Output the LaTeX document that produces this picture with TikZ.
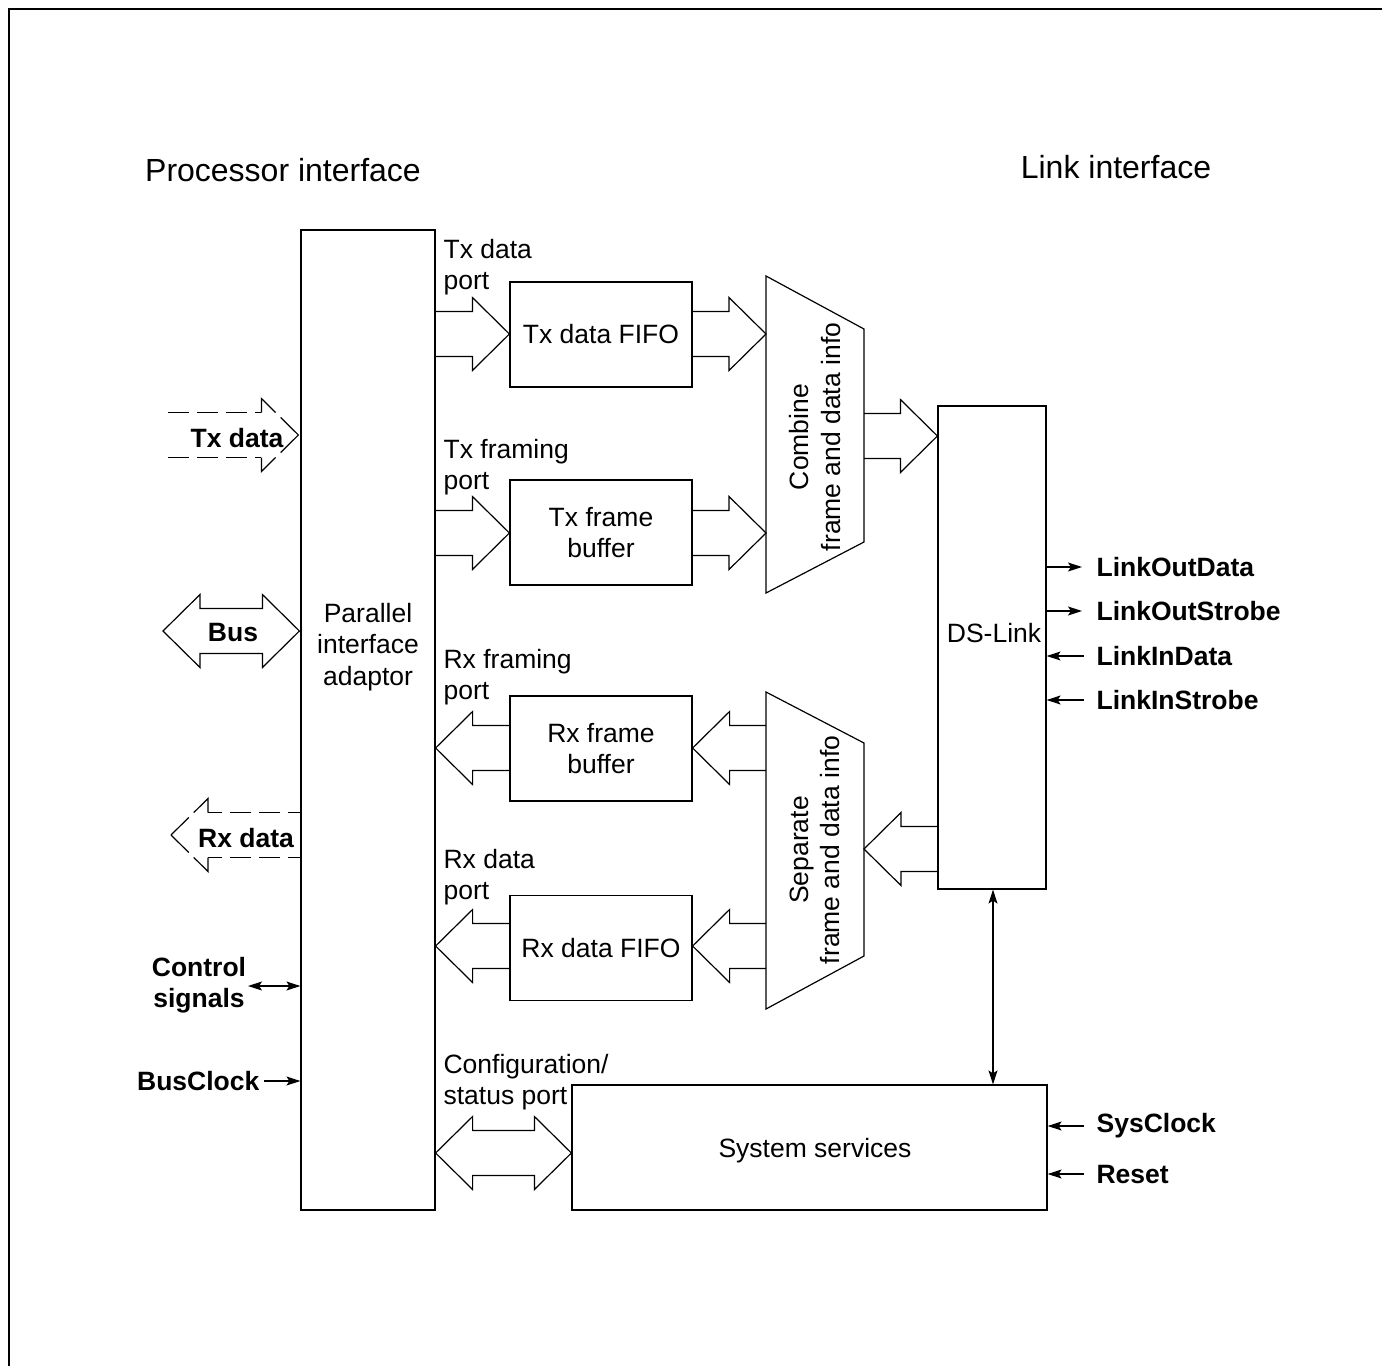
\documentclass[tikz,border=0pt]{standalone}
\usepackage{fontspec}
\setmainfont{Liberation Sans}
\usetikzlibrary{arrows.meta,calc}
\newcommand\myfs{\fontsize{26.5}{31.5}\selectfont}
\newcommand\mytitlefs{\fontsize{32}{38}\selectfont}
% block arrow pointing right: #2 start, #3 tip, #4 y
\newcommand\bArrR[4][]{%
  \path (#2 |- 0,#4) coordinate (ba) (#3 |- 0,#4) coordinate (bb);
  \draw[#1] ([yshift=22.5pt]ba) -- ([xshift=-37pt,yshift=22.5pt]bb) -- ([xshift=-37pt,yshift=36.5pt]bb) -- (bb)
    -- ([xshift=-37pt,yshift=-36.5pt]bb) -- ([xshift=-37pt,yshift=-22.5pt]bb) -- ([yshift=-22.5pt]ba);}
% block arrow pointing left: #2 start (right), #3 tip (left), #4 y
\newcommand\bArrL[4][]{%
  \path (#2 |- 0,#4) coordinate (ba) (#3 |- 0,#4) coordinate (bb);
  \draw[#1] ([yshift=22.5pt]ba) -- ([xshift=37pt,yshift=22.5pt]bb) -- ([xshift=37pt,yshift=36.5pt]bb) -- (bb)
    -- ([xshift=37pt,yshift=-36.5pt]bb) -- ([xshift=37pt,yshift=-22.5pt]bb) -- ([yshift=-22.5pt]ba);}
% double block arrow: #1 left tip, #2 right tip, #3 y
\newcommand\bArrD[3]{%
  \path (#1 |- 0,#3) coordinate (ba) (#2 |- 0,#3) coordinate (bb);
  \draw ([xshift=37pt,yshift=22.5pt]ba) -- ([xshift=-37pt,yshift=22.5pt]bb) -- ([xshift=-37pt,yshift=36.5pt]bb) -- (bb)
    -- ([xshift=-37pt,yshift=-36.5pt]bb) -- ([xshift=-37pt,yshift=-22.5pt]bb) -- ([xshift=37pt,yshift=-22.5pt]ba)
    -- ([xshift=37pt,yshift=-36.5pt]ba) -- (ba) -- ([xshift=37pt,yshift=36.5pt]ba) -- cycle;}
\begin{document}
\begin{tikzpicture}[x=1pt,y=-1pt,line width=1.2pt,
  box/.style={draw,inner sep=0pt,align=center,font=\myfs},
  txt/.style={inner sep=0pt,font=\myfs,align=left},
  btxt/.style={inner sep=0pt,font=\myfs\bfseries,align=center},
  sig/.style={-{Stealth[length=14pt,width=9pt,inset=3pt]}},
  dsig/.style={{Stealth[length=14pt,width=9pt,inset=3pt]}-{Stealth[length=14pt,width=9pt,inset=3pt]}},
  dashline/.style={dash pattern=on 21pt off 8pt},
  dashhead/.style={dash pattern=on 34pt off 7pt}]
\useasboundingbox (0,0) rectangle (1382,1366);
\draw (9,1366) -- (9,9) -- (1382,9);

% titles
\node[inner sep=0pt,font=\mytitlefs] (tproc) at (283,170) {Processor interface};
\node[inner sep=0pt,font=\mytitlefs] (tlink) at (1116,167) {Link interface};

% boxes
\node[box,minimum width=134,minimum height=980] (pia) at (368,720) {};
\node[txt,align=center] (pial) at (368,647) {Parallel\\interface\\adaptor};
\node[box,minimum width=182,minimum height=105] (txfifo) at (601,334.5) {Tx data FIFO};
\node[box,minimum width=182,minimum height=105] (txfb) at (601,532.5) {Tx frame\\buffer};
\node[box,minimum width=182,minimum height=105] (rxfb) at (601,748.5) {Rx frame\\buffer};
\node[box,minimum width=182,minimum height=105] (rxfifo) at (601,948) {Rx data FIFO};
\node[box,minimum width=108,minimum height=483] (ds) at (992,647.5) {};
\node[txt] (dsl) at (994,633) {DS-Link};
\node[box,minimum width=475,minimum height=125] (sys) at (809.5,1147.5) {};
\node[txt] (sysl) at (815,1151) {System services};

% trapezoids
\draw (766,276) coordinate (cmbTL) -- (864,329) coordinate (cmbTR) -- (864,542) coordinate (cmbBR) -- (766,593) coordinate (cmbBL) -- cycle;
\coordinate (cmbL) at (766,434);
\coordinate (cmbR) at (864,434);
\node[txt,align=center,rotate=90] (cmbl) at (815,437) {Combine\\frame and data info};
\draw (766,692) coordinate (sepTL) -- (864,743) coordinate (sepTR) -- (864,956) coordinate (sepBR) -- (766,1009) coordinate (sepBL) -- cycle;
\coordinate (sepL) at (766,850);
\coordinate (sepR) at (864,850);
\node[txt,align=center,rotate=90] (sepl) at (815,850) {Separate\\frame and data info};

% port labels
\node[txt,anchor=west] (ptx) at (443,267) {Tx data\\port};
\node[txt,anchor=west] (ptf) at (443,467) {Tx framing\\port};
\node[txt,anchor=west] (prf) at (443,677) {Rx framing\\port};
\node[txt,anchor=west] (prx) at (443,877) {Rx data\\port};
\node[txt,anchor=west] (pcfg) at (443,1082) {Configuration/\\status port};

% block arrows
\bArrR{pia.east}{txfifo.west}{334}
\bArrR{txfifo.east}{cmbL}{334}
\bArrR{pia.east}{txfb.west}{533}
\bArrR{txfb.east}{cmbL}{533}
\bArrR{cmbR}{ds.west}{436}
\bArrL{sepL}{rxfb.east}{748}
\bArrL{rxfb.west}{pia.east}{748}
\bArrL{sepL}{rxfifo.east}{946}
\bArrL{rxfifo.west}{pia.east}{946}
\bArrL{ds.west}{sepR}{849}
\bArrD{pia.east}{sys.west}{1153}

% left side external arrows
\coordinate (txin) at (168,435);
\coordinate (txtip) at ([xshift=-2pt]pia.west |- txin);
\draw[dashline] ([yshift=22.5pt]txin) -- ([xshift=-37pt,yshift=22.5pt]txtip);
\draw[dashline] ([yshift=-22.5pt]txin) -- ([xshift=-37pt,yshift=-22.5pt]txtip);
\draw[dashhead] ([xshift=-37pt,yshift=22.5pt]txtip) -- ([xshift=-37pt,yshift=36.5pt]txtip) -- (txtip);
\draw[dashhead] ([xshift=-37pt,yshift=-22.5pt]txtip) -- ([xshift=-37pt,yshift=-36.5pt]txtip) -- (txtip);
\node[btxt] (txdl) at (237,438) {Tx data};
\coordinate (busL) at (163,631);
\bArrD{busL}{[xshift=-1pt]pia.west}{631}
\node[btxt] (busl) at (233,633) {Bus};
\coordinate (rxout) at (171,835);
\coordinate (rxbase) at (pia.west |- rxout);
\draw[dashline,dash phase=9pt] ([yshift=22.5pt]rxbase) -- ([xshift=37pt,yshift=22.5pt]rxout);
\draw[dashline,dash phase=9pt] ([yshift=-22.5pt]rxbase) -- ([xshift=37pt,yshift=-22.5pt]rxout);
\draw[dashhead] ([xshift=37pt,yshift=22.5pt]rxout) -- ([xshift=37pt,yshift=36.5pt]rxout) -- (rxout);
\draw[dashhead] ([xshift=37pt,yshift=-22.5pt]rxout) -- ([xshift=37pt,yshift=-36.5pt]rxout) -- (rxout);
\node[btxt] (rxdl) at (246,838) {Rx data};

\node[btxt] (ctl) at (199,985) {Control\\signals};
\draw[dsig] (248,986) coordinate (ctlE) -- (pia.west |- ctlE);
\node[btxt,anchor=east] (bclk) at (260,1081) {BusClock};
\draw[sig] ([xshift=4pt]bclk.east) -- (pia.west |- bclk.east);

% link side signals
\node[btxt,anchor=west] (lod) at (1096,567) {LinkOutData};
\node[btxt,anchor=west] (los) at (1096,611) {LinkOutStrobe};
\node[btxt,anchor=west] (lid) at (1096,656) {LinkInData};
\node[btxt,anchor=west] (lis) at (1096,700) {LinkInStrobe};
\draw[sig] (ds.east |- lod.west) -- ([xshift=-14pt]lod.west);
\draw[sig] (ds.east |- los.west) -- ([xshift=-14pt]los.west);
\draw[sig] ([xshift=-12pt]lid.west) -- (ds.east |- lid.west);
\draw[sig] ([xshift=-12pt]lis.west) -- (ds.east |- lis.west);

\node[btxt,anchor=west] (sclk) at (1096,1126) {SysClock};
\node[btxt,anchor=west] (rst) at (1096,1174) {Reset};
\draw[sig] ([xshift=-12pt]sclk.west) -- (sys.east |- sclk.west);
\draw[sig] ([xshift=-12pt]rst.west) -- (sys.east |- rst.west);

\draw[dsig] ([xshift=1pt]ds.south) -- ([xshift=1pt]ds.south |- sys.north);
\end{tikzpicture}
\end{document}
